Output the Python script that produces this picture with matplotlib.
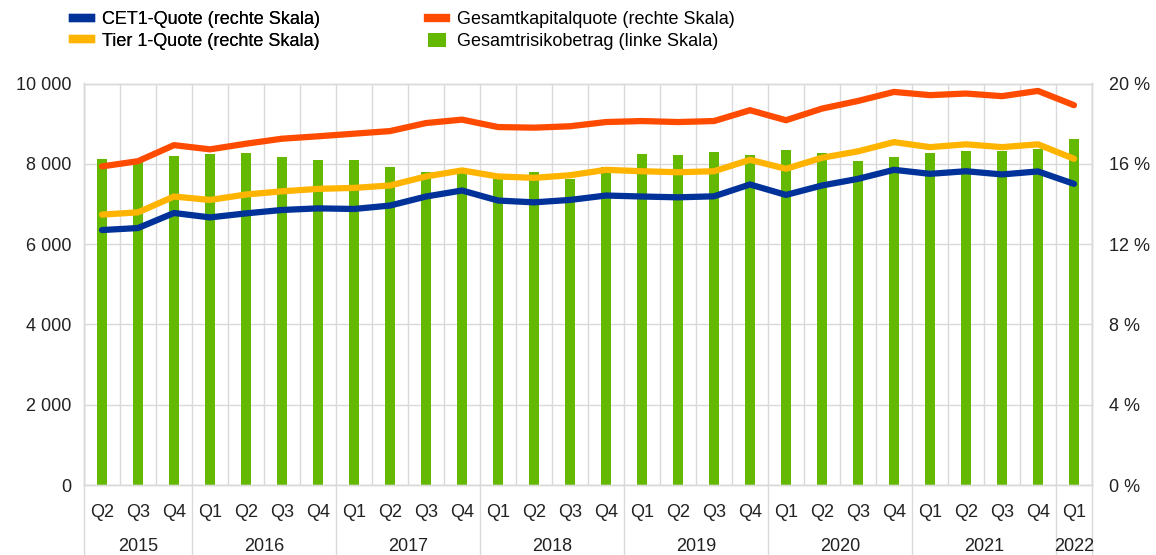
import matplotlib
matplotlib.use("Agg")
import matplotlib.pyplot as plt
import matplotlib.transforms as mtransforms
from matplotlib.lines import Line2D
from matplotlib.patches import Patch
import numpy as np

plt.rcParams['font.family'] = ['Liberation Sans', 'DejaVu Sans']

# quarters 2015 Q2 .. 2022 Q1
quarters = ["Q2", "Q3", "Q4"] + ["Q1", "Q2", "Q3", "Q4"] * 6 + ["Q1"]
years = ["2015", "2016", "2017", "2018", "2019", "2020", "2021", "2022"]
quarters_per_year = [3, 4, 4, 4, 4, 4, 4, 1]

# Gesamtrisikobetrag (left scale)
rwa = [8130, 8080, 8190, 8250, 8270, 8170, 8100, 8090, 7930, 7790, 7820, 7630, 7790, 7630,
       7930, 8250, 8220, 8300, 8230, 8350, 8270, 8070, 8160, 8275, 8310, 8330, 8375, 8625]

# ratios in % (right scale)
cet1 = [12.70, 12.80, 13.55, 13.33, 13.53, 13.70, 13.78, 13.75, 13.92, 14.37, 14.67, 14.17, 14.08, 14.20,
        14.42, 14.37, 14.33, 14.38, 14.97, 14.45, 14.92, 15.25, 15.70, 15.50, 15.63, 15.47, 15.62, 15.00]
tier1 = [13.47, 13.58, 14.37, 14.20, 14.47, 14.63, 14.75, 14.80, 14.92, 15.37, 15.67, 15.37, 15.30, 15.43,
         15.70, 15.63, 15.58, 15.63, 16.20, 15.75, 16.30, 16.62, 17.08, 16.83, 16.97, 16.83, 16.97, 16.25]
total = [15.87, 16.13, 16.93, 16.72, 17.00, 17.25, 17.37, 17.50, 17.63, 18.03, 18.20, 17.83, 17.80, 17.87,
         18.08, 18.13, 18.08, 18.13, 18.67, 18.17, 18.75, 19.13, 19.58, 19.42, 19.50, 19.37, 19.63, 18.92]

blue = "#003299"
yellow = "#ffb400"
red = "#ff4b00"
green = "#65b800"
grid_col = "#d9d9d9"
txt_col = "#222222"
fs = 13

fig = plt.figure(figsize=(11.56, 5.55), dpi=100)
ax = fig.add_axes([84 / 1156, 1 - 485 / 555, (1092 - 84) / 1156, (485 - 83.5) / 555])
ax2 = ax.twinx()

x = np.arange(len(quarters))
ax.bar(x, rwa, width=0.3, color=green, zorder=2)
ax.set_xlim(-0.5, len(quarters) - 0.5)
ax.set_ylim(0, 10000)
ax.set_yticks(np.arange(0, 10001, 2000))
ax.set_yticklabels([f"{v:,}".replace(",", " ") for v in range(0, 10001, 2000)])
ax.set_axisbelow(True)

ax2.plot(x, cet1, color=blue, lw=4.5, solid_capstyle="round", solid_joinstyle="round")
ax2.plot(x, tier1, color=yellow, lw=4.5, solid_capstyle="round", solid_joinstyle="round")
ax2.plot(x, total, color=red, lw=4.5, solid_capstyle="round", solid_joinstyle="round")
ax2.set_ylim(0, 20)
ax2.set_yticks(np.arange(0, 21, 4))
ax2.set_yticklabels([f"{v} %" for v in range(0, 21, 4)])

# grid: horizontal at left ticks, vertical at every quarter boundary
ax.set_xticks(x)
ax.set_xticklabels(quarters)
ax.set_xticks(np.arange(-0.5, len(quarters), 1.0), minor=True)
ax.grid(True, which="minor", axis="x", color=grid_col, lw=1)
ax.grid(True, which="major", axis="y", color=grid_col, lw=1)
ax.tick_params(axis="x", which="both", length=0, pad=14, labelsize=fs, labelcolor=txt_col)
ax.tick_params(axis="y", length=0, pad=9, labelsize=fs, labelcolor=txt_col)
ax2.tick_params(axis="y", length=0, pad=12, labelsize=fs, labelcolor=txt_col)

for a in (ax, ax2):
    for s in a.spines.values():
        s.set_color(grid_col)
        s.set_linewidth(1)

# year labels and separators below the axis
trans = mtransforms.blended_transform_factory(ax.transData, ax.transAxes)
start = -0.5
for yr, n in zip(years, quarters_per_year):
    end = start + n
    ax.text((start + end) / 2, -0.152, yr, transform=trans, ha="center", va="center",
            fontsize=fs, color=txt_col)
    ax.plot([start, start], [0, -0.18], transform=trans, color=grid_col, lw=1, clip_on=False)
    start = end
ax.plot([start, start], [0, -0.18], transform=trans, color=grid_col, lw=1, clip_on=False)

# legend in two columns
h1 = [Line2D([], [], color=blue, lw=6), Line2D([], [], color=yellow, lw=6)]
l1 = ["CET1-Quote (rechte Skala)", "Tier 1-Quote (rechte Skala)"]
h2 = [Line2D([], [], color=red, lw=6), Patch(facecolor=green)]
l2 = ["Gesamtkapitalquote (rechte Skala)", "Gesamtrisikobetrag (linke Skala)"]
leg_kw = dict(loc="upper left", frameon=False, fontsize=fs, handlelength=1.0, handleheight=0.8,
              handletextpad=0.6, labelspacing=0.25, borderpad=0, borderaxespad=0)
leg1 = fig.legend(h1, l1, bbox_to_anchor=(73 / 1156, 1 - 11 / 555), **leg_kw)
leg2 = fig.legend(h2, l2, bbox_to_anchor=(428 / 1156, 1 - 11 / 555), **leg_kw)
fig.add_artist(leg1)

fig.savefig("out.png", dpi=100)
